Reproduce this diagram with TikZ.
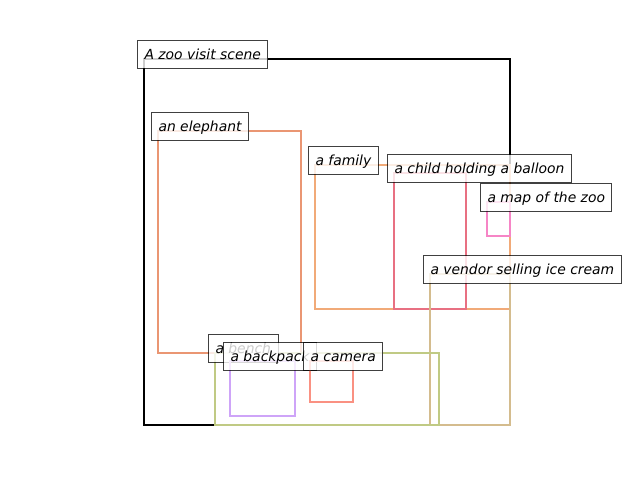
\documentclass[tikz,border=0pt]{standalone}
\usepackage{fontspec}
\setmainfont{DejaVu Sans}
\definecolor{cScene}{RGB}{0,0,0}
\definecolor{cEleph}{RGB}{234,150,115}
\definecolor{cFam}{RGB}{241,170,120}
\definecolor{cChild}{RGB}{232,112,130}
\definecolor{cMap}{RGB}{246,133,198}
\definecolor{cVend}{RGB}{212,188,142}
\definecolor{cBench}{RGB}{192,202,132}
\definecolor{cPack}{RGB}{206,164,248}
\definecolor{cCam}{RGB}{250,145,130}
\begin{document}
\begin{tikzpicture}[x=0.72pt,y=-0.72pt,
  boxline/.style={line width=1.44pt},
  lbl/.style={anchor=base west, draw=black, draw opacity=0.75, fill=white, fill opacity=0.8, text opacity=1,
    line width=0.72pt, inner xsep=5.04pt, inner ysep=0pt, text height=13.3pt, text depth=6.8pt,
    font=\fontsize{10}{12}\selectfont\itshape}]
\useasboundingbox (0,0) rectangle (640,480);
\draw[boxline, cScene] (144,59) rectangle (510,425);
\node[lbl] (lscene) at (137,59) {A zoo visit scene};
\draw[boxline, cEleph] (158,131) rectangle (301,353);
\node[lbl] (leleph) at (151,131) {an elephant};
\draw[boxline, cFam] (315,165) rectangle (510,309);
\node[lbl] (lfam) at (308,165) {a family};
\draw[boxline, cChild] (394,173) rectangle (466,309);
\node[lbl] (lchild) at (387,173) {a child holding a balloon};
\draw[boxline, cMap] (487,202) rectangle (510,236);
\node[lbl] (lmap) at (480,202) {a map of the zoo};
\draw[boxline, cVend] (430,274) rectangle (510,425);
\node[lbl] (lvend) at (423,274) {a vendor selling ice cream};
\draw[boxline, cBench] (215,353) rectangle (439,425);
\node[lbl] (lbench) at (208,353) {a bench};
\draw[boxline, cPack] (230,361) rectangle (295,416);
\node[lbl] (lpack) at (223,361) {a backpack};
\draw[boxline, cCam] (310,361) rectangle (353,402);
\node[lbl] (lcam) at (303,361) {a camera};
\end{tikzpicture}
\end{document}
